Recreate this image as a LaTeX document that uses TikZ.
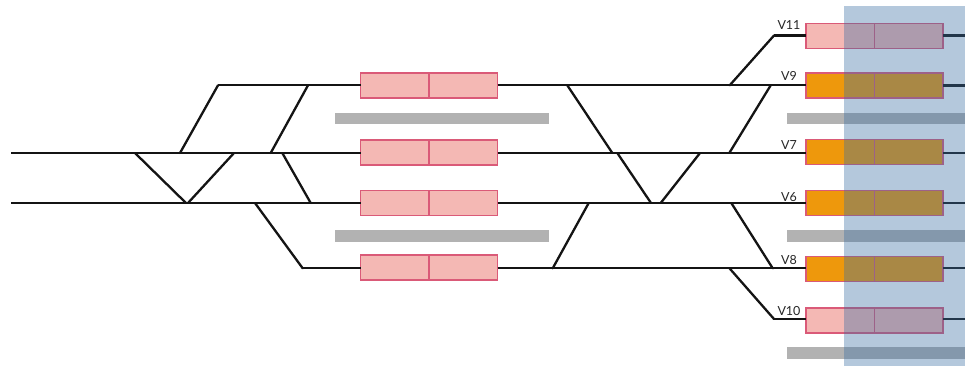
\documentclass[tikz,border=0pt]{standalone}
\usepackage{fontspec}
\setmainfont{Lato}
\usetikzlibrary{calc}
\definecolor{trackc}{HTML}{141414}
\definecolor{pinkf}{HTML}{F4B8B4}
\definecolor{oranf}{HTML}{EE980C}
\definecolor{edgec}{HTML}{DA5A78}
\definecolor{barc}{HTML}{B2B2B2}
\definecolor{zonec}{RGB}{58,110,163}
\tikzset{
  track/.style={draw=trackc,line width=2.3pt,line join=miter},
  switchline/.style={draw=trackc,line width=2.3pt,line cap=round},
  platform/.style={rectangle,draw=edgec,line width=1.2pt,fill=pinkf,minimum width=137pt,minimum height=25pt,inner sep=0pt,outer sep=0pt},
  staffed/.style={platform,fill=oranf},
  divider/.style={draw=edgec,line width=1.2pt},
  greybar/.style={fill=barc,draw=none},
  zone/.style={fill=zonec,fill opacity=0.38,draw=none},
  vlabel/.style={font=\fontsize{12.5}{14}\selectfont,text=black!85,inner sep=0pt,anchor=base}
}
\begin{document}
\begin{tikzpicture}[x=1pt,y=-1pt]
\useasboundingbox (0,0) rectangle (965,367);
% platform bars
\fill[greybar] (335,112.7) rectangle (548.5,124);
\fill[greybar] (335,230) rectangle (548.5,242);
\fill[greybar] (787.3,112.7) rectangle (965,124);
\fill[greybar] (787.3,230) rectangle (965,242);
\fill[greybar] (787.3,346.7) rectangle (965,358.7);
% centre platforms
\node[platform] (m1) at (429,85.5) {};
\node[platform] (m2) at (429,152.5) {};
\node[platform] (m3) at (429,203) {};
\node[platform] (m4) at (429,267.5) {};
% right platforms
\node[platform] (v11) at (874.5,35.7) {};
\node[staffed] (v9) at (874.5,85.5) {};
\node[staffed] (v7) at (874.5,152) {};
\node[staffed] (v6) at (874.5,203) {};
\node[staffed] (v8) at (874.5,268.7) {};
\node[platform] (v10) at (874.5,320.5) {};
\foreach \n in {m1,m2,m3,m4,v11,v9,v7,v6,v8,v10}
  \draw[divider] ([xshift=68.5pt]\n.north west) -- ([xshift=68.5pt]\n.south west);
% track ends
\coordinate (s2) at (11,153);
\coordinate (s3) at (11,203);
\coordinate (s1) at (218,85.3);
\coordinate (s4) at (302.7,268.3);
\coordinate (k11) at (774,35.5);
\coordinate (k10) at (774,319);
\foreach \n/\y in {11/35.5,9/85.5,7/153,6/203,8/268.3,10/319}
  \coordinate (e\n) at (965,\y);
% main tracks
\draw[track] (s1) -- (m1.west |- s1);
\draw[track] (s2) -- (m2.west |- s2);
\draw[track] (s3) -- (m3.west |- s3);
\draw[track] (s4) -- (m4.west |- s4);
\draw[track] (m1.east |- s1) -- (v9.west |- s1);
\draw[track] (m2.east |- s2) -- (v7.west |- s2);
\draw[track] (m3.east |- s3) -- (v6.west |- s3);
\draw[track] (m4.east |- s4) -- (v8.west |- s4);
\draw[track] (k11) -- (v11.west |- k11);
\draw[track] (k10) -- (v10.west |- k10);
\foreach \n in {11,9,7,6,8,10}
  \draw[track] (v\n.east |- e\n) -- (e\n);
% switches, left
\coordinate (a1) at (180,153);
\coordinate (a2) at (308,85.3);
\coordinate (a3) at (270.7,153);
\coordinate (a4) at (135,153);
\coordinate (a5) at (186,203);
\coordinate (a6) at (234,153);
\coordinate (a7) at (188,203);
\coordinate (a8) at (282.3,153);
\coordinate (a9) at (310.7,203);
\coordinate (a10) at (255,203);
\draw[switchline] (s1) -- (a1);
\draw[switchline] (a2) -- (a3);
\draw[switchline] (a4) -- (a5);
\draw[switchline] (a6) -- (a7);
\draw[switchline] (a8) -- (a9);
\draw[switchline] (a10) -- (s4);
% switches, right
\coordinate (b1) at (567.3,85.3);
\coordinate (b2) at (612.3,153);
\coordinate (b3) at (617.3,153);
\coordinate (b4) at (651,203);
\coordinate (b5) at (660.7,203);
\coordinate (b6) at (700,153);
\coordinate (b7) at (729.3,153);
\coordinate (b8) at (770.7,85.3);
\coordinate (b9) at (729.7,85.3);
\coordinate (b10) at (588.7,203);
\coordinate (b11) at (552.7,268.3);
\coordinate (b12) at (731.3,203);
\coordinate (b13) at (772.7,268.3);
\coordinate (b14) at (729.5,268.3);
\draw[switchline] (b1) -- (b2);
\draw[switchline] (b3) -- (b4);
\draw[switchline] (b5) -- (b6);
\draw[switchline] (b7) -- (b8);
\draw[switchline] (b9) -- (k11);
\draw[switchline] (b10) -- (b11);
\draw[switchline] (b12) -- (b13);
\draw[switchline] (b14) -- (k10);
% labels
\node[vlabel] (l11) at (789,29) {V11};
\node[vlabel] (l9) at (789,80.5) {V9};
\node[vlabel] (l7) at (789,149) {V7};
\node[vlabel] (l6) at (789,201) {V6};
\node[vlabel] (l8) at (789,264) {V8};
\node[vlabel] (l10) at (789,315) {V10};
% shaded zone
\fill[zone] (844,6) rectangle (965,366);
\end{tikzpicture}
\end{document}
